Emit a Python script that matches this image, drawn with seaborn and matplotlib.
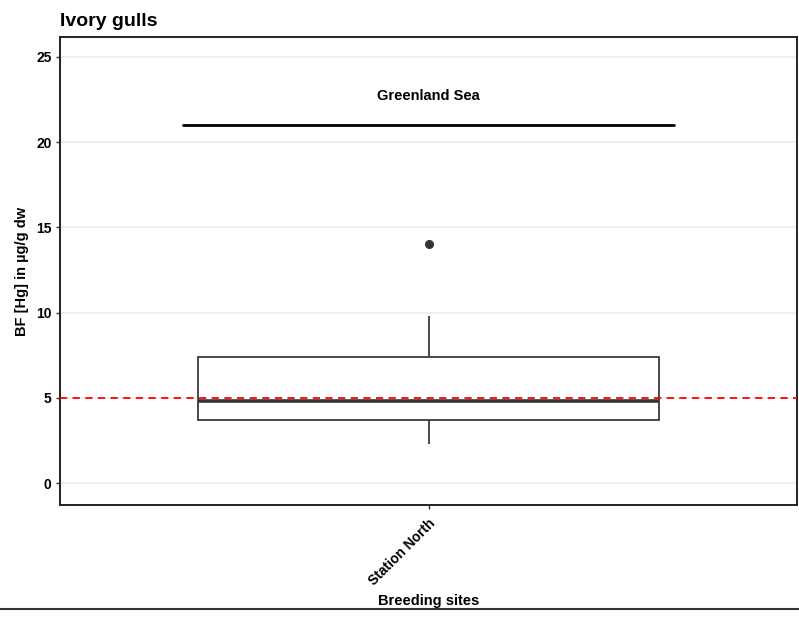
import numpy as np
import pandas as pd
import matplotlib
matplotlib.use('Agg')
import matplotlib.pyplot as plt
import seaborn as sns
from matplotlib.lines import Line2D

# mercury values (BF [Hg], ug/g dw)
sites = ['Station North'] * 9
hg_values = [2.3, 3.2, 3.7, 4.2, 4.8, 6.1, 7.4, 9.8, 14.0]
threshold = 5
region_label = 'Greenland Sea'
region_y = 21
region_label_y = 22.7
y_ticks = [0, 5, 10, 15, 20, 25]

df = pd.DataFrame({'site': sites, 'hg': hg_values})

sns.set_style('white')
plt.rcParams['font.family'] = ['Liberation Sans', 'DejaVu Sans']
plt.rcParams['font.weight'] = 'bold'

fig = plt.figure(figsize=(7.99, 6.2), dpi=100, facecolor='white')
ax = fig.add_axes([0.0751, 0.1855, 0.9224, 0.7548])

for yt in y_ticks:
    ax.axhline(yt, color='#ebebeb', linewidth=1.1, zorder=0)

sns.boxplot(
    data=df, x='site', y='hg', ax=ax,
    width=0.75, color='white', linecolor='#3a3a3a', linewidth=1.3,
    medianprops={'linewidth': 2.6, 'color': '#333333'},
    capprops={'linewidth': 0},
    flierprops={'marker': 'o', 'markersize': 5.5, 'markerfacecolor': '#333333',
                'markeredgecolor': '#333333'},
    whis=1.5, zorder=2,
)

ax.axhline(threshold, color='red', linestyle=(0, (4, 3)), linewidth=1.3, zorder=3)
ax.plot([-0.4, 0.4], [region_y, region_y], color='black', linewidth=2)
ax.text(0, region_label_y, region_label, ha='center', va='center',
        fontsize=10.5, fontweight='bold', color='black')

ax.set_xlim(-0.6, 0.6)
ax.set_ylim(-1.29, 26.17)
ax.set_yticks(y_ticks)
ax.set_yticklabels([str(t) for t in y_ticks], fontsize=10, fontweight='bold', color='black')
ax.set_xticks([0])
ax.set_xticklabels(['Station North'], rotation=45, ha='right', rotation_mode='anchor',
                   fontsize=10, fontweight='bold', color='black')
ax.tick_params(axis='y', length=3, width=1, color='#333333', pad=3, left=True)
ax.tick_params(axis='x', length=3, width=1, color='#333333', pad=5, bottom=True)

ax.set_xlabel('Breeding sites', fontsize=10.5, fontweight='bold', labelpad=4, color='black')
ax.set_ylabel('BF [Hg] in µg/g dw', fontsize=10.5, fontweight='bold', labelpad=5, color='black')
ax.set_title('Ivory gulls', loc='left', fontsize=14, fontweight='bold', pad=8, x=0.0,
             color='black')

for side in ['left', 'right', 'top', 'bottom']:
    ax.spines[side].set_visible(True)
    ax.spines[side].set_color('#222222')
    ax.spines[side].set_linewidth(1.4)

# bottom border of the figure
fig.add_artist(Line2D([0, 1], [1 - 609 / 620, 1 - 609 / 620], color='#333333', linewidth=1.5))

plt.savefig('out.png', dpi=100, facecolor='white')
